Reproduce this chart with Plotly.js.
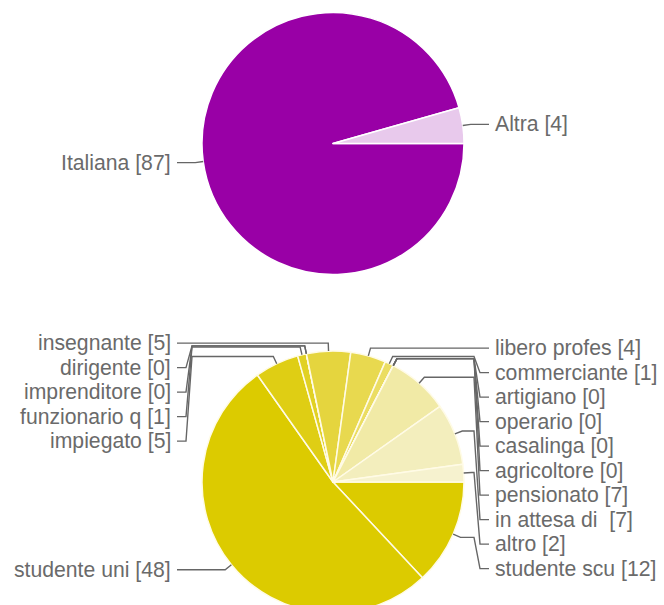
<!DOCTYPE html>
<html><head><meta charset="utf-8">
<script src="https://cdn.plot.ly/plotly-3.0.1.min.js"></script>
<style>html,body{margin:0;padding:0;overflow:hidden;background:#fff}</style>
</head><body><div id="chart"></div>
<script>
// ---- data ----
const nationalityLabels = ['Italiana', 'Altra'];
const nationalityValues = [87, 4];
const nationalityColors = ['#9900a6', '#e8c9ec'];

const jobLabels = ['studente scu', 'studente uni', 'impiegato', 'funzionario q', 'imprenditore',
  'dirigente', 'insegnante', 'libero profes', 'commerciante', 'artigiano', 'operario',
  'casalinga', 'agricoltore', 'pensionato', 'in attesa di\u00a0', 'altro'];
const jobValues = [12, 48, 5, 1, 0, 0, 5, 4, 1, 0, 0, 0, 0, 7, 7, 2];
const jobColors = ['#dccb00', '#dccb00', '#dfce14', '#e1d124', '#e2d22c', '#e3d334', '#e5d53e',
  '#e8d94f', '#ebdd62', '#ede26f', '#eee47c', '#efe689', '#f0e896', '#f1eaa6', '#f3eebd', '#f6f2cf'];

// ---- geometry (pixels) ----
const W = 664, H = 620;
const CX = 333, R = 131;
const CY_TOP = 143.5, CY_BOT = 482;
const GAP = 24.5;
const TEXT_COLOR = '#6a6a6a', LINE_COLOR = '#666666';
const FONT = {family: '"Liberation Sans", Arial, sans-serif', size: 21.2, color: TEXT_COLOR};

const px = x => x / W;
const py = y => 1 - y / H;

const shapes = [], annotations = [];

function addLabels(labels, values, cy) {
  const total = values.reduce((a, b) => a + b, 0);
  let cum = 0;
  const items = labels.map((lab, i) => {
    const mid = (cum + values[i] / 2) / total * 360; cum += values[i];
    const t = mid * Math.PI / 180;
    const c = Math.cos(t), s = Math.sin(t);
    return {
      text: lab + ' [' + values[i] + ']', i,
      ax: CX + R * c, ay: cy + R * s,
      bx: CX + (R + 8) * c, by: cy + (R + 8) * s,
      side: c >= 0 ? 'right' : 'left',
      key: (mid - 270 + 720) % 360
    };
  });
  ['right', 'left'].forEach(side => {
    const grp = items.filter(d => d.side === side)
      .sort((a, b) => side === 'right'
        ? (a.key - b.key) || (a.i - b.i)
        : (b.key - a.key) || (b.i - a.i));
    let prev = -Infinity;
    grp.forEach(d => { d.ly = Math.max(d.by, prev + GAP); prev = d.ly; });
    grp.forEach(d => {
      const right = side === 'right';
      const col = right ? CX + R + 10 : CX - R - 10;
      const col2 = right ? col + 6 : col - 6;
      const lx = right ? CX + 160 : CX - 160;
      const end = right ? lx - 4 : lx + 4;
      const pts = [[d.ax, d.ay], [d.bx, d.by], [col, d.by], [col2, d.ly], [end, d.ly]];
      shapes.push({
        type: 'path', xref: 'paper', yref: 'paper', layer: 'above',
        path: 'M' + pts.map(p => px(p[0]).toFixed(5) + ',' + py(p[1]).toFixed(5)).join(' L'),
        line: {color: LINE_COLOR, width: 1.4}
      });
      annotations.push({
        xref: 'paper', yref: 'paper', x: px(lx), y: py(d.ly),
        xanchor: right ? 'left' : 'right', yanchor: 'middle',
        text: d.text, showarrow: false, font: FONT
      });
    });
  });
}

addLabels(nationalityLabels, nationalityValues, CY_TOP);
addLabels(jobLabels, jobValues, CY_BOT);

const pieCommon = {
  type: 'pie', sort: false, direction: 'clockwise', rotation: 90,
  textinfo: 'none', hoverinfo: 'none', showlegend: false
};

const traces = [
  Object.assign({}, pieCommon, {
    labels: nationalityLabels, values: nationalityValues,
    marker: {colors: nationalityColors, line: {color: '#ffffff', width: 1.5}},
    domain: {x: [(CX - (W - CX)) / W, 1], y: [py(CY_TOP + R), py(CY_TOP - R)]}
  }),
  Object.assign({}, pieCommon, {
    labels: jobLabels, values: jobValues,
    marker: {colors: jobColors, line: {color: '#fffbe6', width: 1.5}},
    domain: {x: [(CX - (W - CX)) / W, 1], y: [py(CY_BOT + R), py(CY_BOT - R)]}
  })
];

Plotly.newPlot('chart', traces, {
  width: W, height: H,
  margin: {l: 0, r: 0, t: 0, b: 0},
  paper_bgcolor: '#ffffff', plot_bgcolor: '#ffffff',
  showlegend: false,
  shapes: shapes, annotations: annotations
}, {displayModeBar: false, staticPlot: true});
</script>
</body></html>
